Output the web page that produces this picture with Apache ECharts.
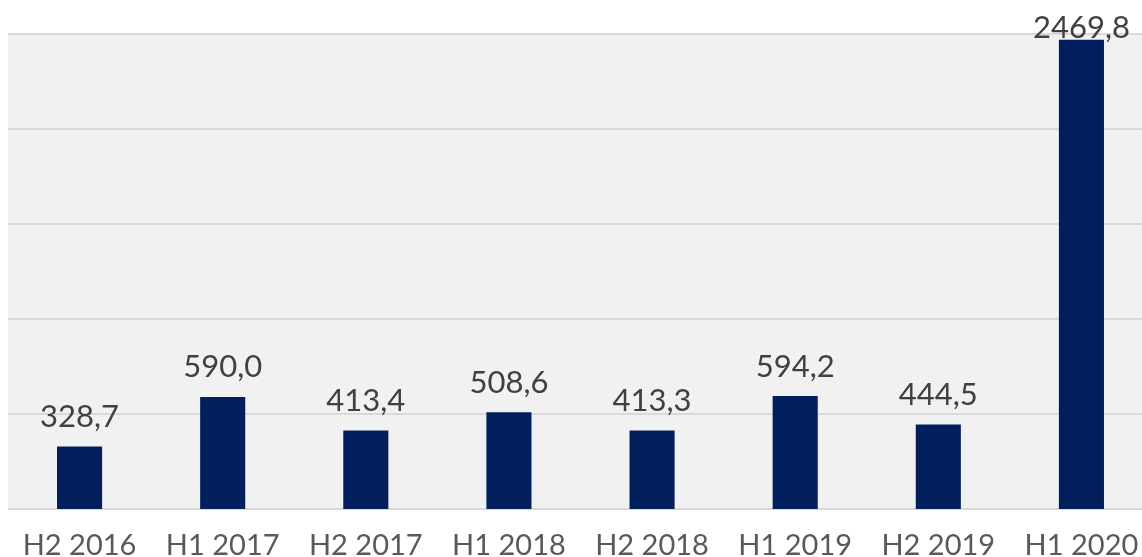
<!DOCTYPE html>
<html>
<head>
<meta charset="utf-8">
<script src="https://cdn.jsdelivr.net/npm/echarts@6/dist/echarts.min.js"></script>
<style>
  html, body { margin: 0; padding: 0; background: #fff; }
  #bar { width: 1142px; height: 557px; }
</style>
</head>
<body>
<div id="bar"></div>
<script>
// half-year categories and values
var categories = ['H2 2016', 'H1 2017', 'H2 2017', 'H1 2018', 'H2 2018', 'H1 2019', 'H2 2019', 'H1 2020'];
var values = [328.7, 590.0, 413.4, 508.6, 413.3, 594.2, 444.5, 2469.8];

// the tallest label is pushed down onto the bar top, like in the original
var barData = values.map(function (v) {
    if (v > 2000) {
        return { value: v, label: { distance: -4 } };
    }
    return v;
});

var bar = echarts.init(document.getElementById('bar'));
bar.setOption({
    animation: false,
    grid: {
        left: 8,
        width: 1145,
        top: 34,
        bottom: 48,
        outerBoundsMode: 'none',
        containLabel: false,
        show: true,
        backgroundColor: '#f1f1f1',
        borderWidth: 0
    },
    xAxis: {
        type: 'category',
        data: categories,
        axisLine: { show: false },
        axisTick: { show: false },
        axisLabel: {
            interval: 0,
            margin: 22,
            fontSize: 29,
            color: '#595959',
            fontFamily: 'Lato'
        }
    },
    yAxis: {
        type: 'value',
        min: 0,
        max: 2500,
        interval: 500,
        axisLabel: { show: false },
        axisLine: { show: false },
        axisTick: { show: false },
        splitLine: {
            lineStyle: { color: '#d9d9d9', width: 2 }
        }
    },
    series: [
        {
            type: 'bar',
            data: barData,
            barWidth: '31.5%',
            itemStyle: { color: '#001f5c' },
            label: {
                show: true,
                position: 'top',
                distance: 14,
                fontSize: 31,
                color: '#404040',
                fontFamily: 'Lato',
                formatter: function (p) {
                    return p.value.toFixed(1).replace('.', ',');
                }
            }
        }
    ]
});
</script>
</body>
</html>
